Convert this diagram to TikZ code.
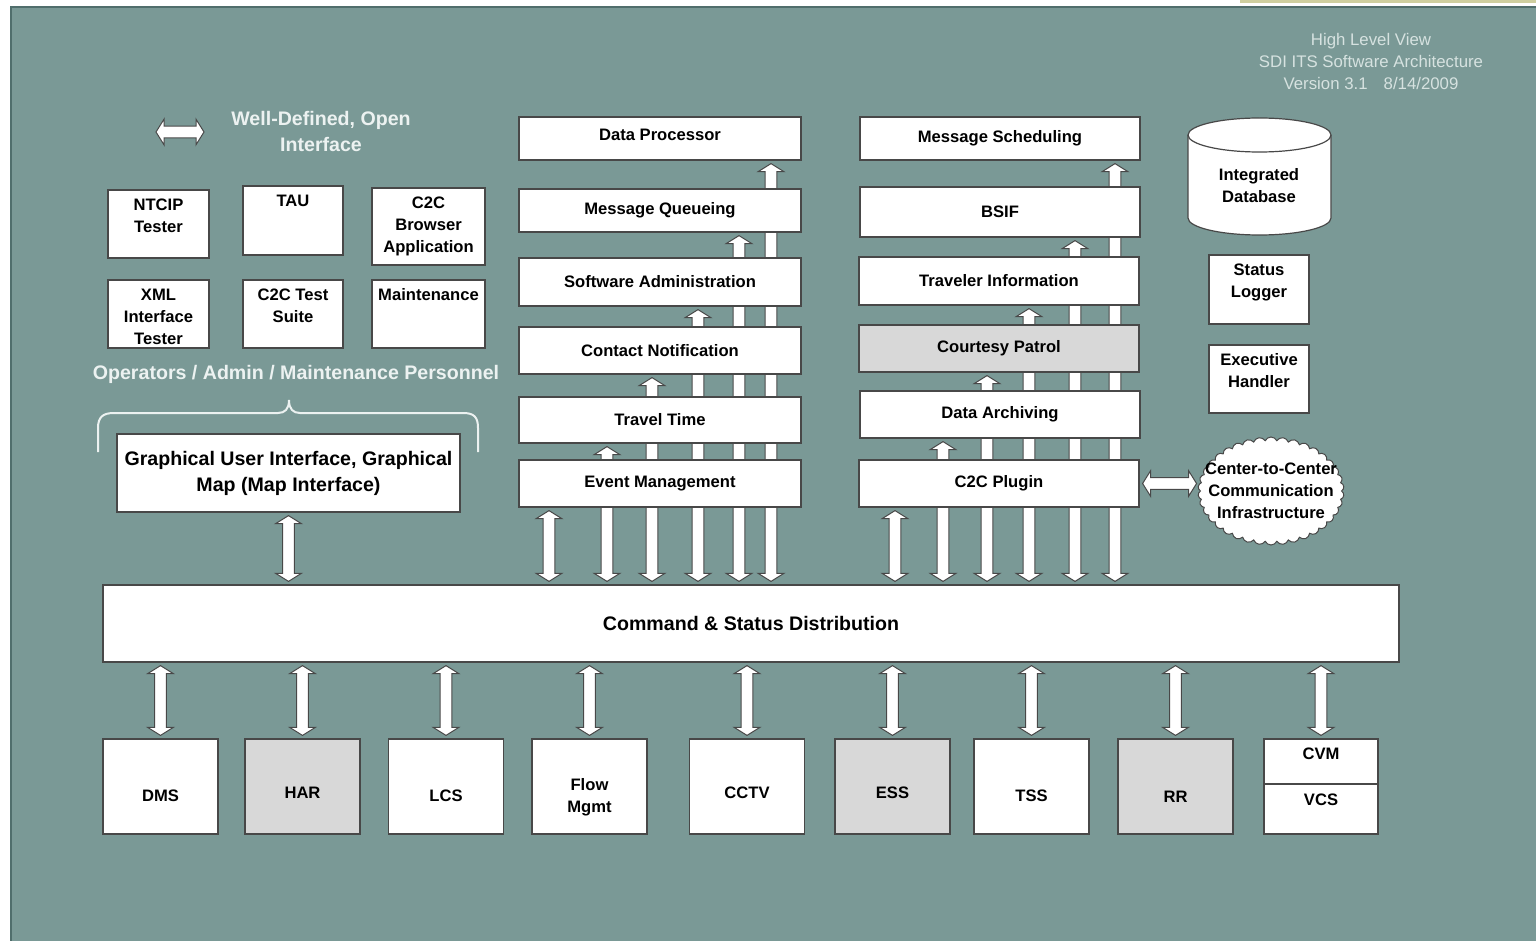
\documentclass[tikz,border=0pt]{standalone}
\usepackage{fontspec}
\setmainfont{Liberation Sans}
\usetikzlibrary{calc,shapes.symbols}
\definecolor{panel}{RGB}{122,153,150}
\definecolor{paneledge}{RGB}{80,110,108}
\definecolor{boxln}{RGB}{72,72,72}
\definecolor{boxgray}{RGB}{216,216,216}
\definecolor{paletxt}{RGB}{236,242,241}
\definecolor{ttltxt}{RGB}{214,226,224}
\definecolor{stripy}{RGB}{207,207,160}
\pgfdeclarelayer{back}
\pgfdeclarelayer{arr}
\pgfsetlayers{back,arr,main}
\newcommand\labfont{\fontsize{8.3}{11}\selectfont\bfseries}
\newcommand\bigfont{\fontsize{9.8}{13}\selectfont\bfseries}
\newcommand\ttlfont{\fontsize{8.4}{11}\selectfont}
\newcommand\arsw{2.9pt}
\newcommand\arhw{6.4pt}
\newcommand\arhl{4pt}
% vertical block arrow: #1 upper end, #2 lower end
\newcommand\blockV[2]{\draw[blockar] let \p1=($(#1)+(0pt,-1.5pt)$), \p2=($(#2)+(0pt,1.5pt)$) in
  (\x1,\y1) -- (\x1+\arhw,\y1-\arhl) -- (\x1+\arsw,\y1-\arhl) -- (\x2+\arsw,\y2+\arhl) -- (\x2+\arhw,\y2+\arhl)
  -- (\x2,\y2) -- (\x2-\arhw,\y2+\arhl) -- (\x2-\arsw,\y2+\arhl) -- (\x1-\arsw,\y1-\arhl) -- (\x1-\arhw,\y1-\arhl) -- cycle;}
% horizontal block arrow: #1 left end, #2 right end
\newcommand\blockH[2]{\draw[blockar] let \p1=($(#1)+(1.5pt,0pt)$), \p2=($(#2)+(-1.5pt,0pt)$) in
  (\x1,\y1) -- (\x1+\arhl,\y1+\arhw) -- (\x1+\arhl,\y1+\arsw) -- (\x2-\arhl,\y2+\arsw) -- (\x2-\arhl,\y2+\arhw)
  -- (\x2,\y2) -- (\x2-\arhl,\y2-\arhw) -- (\x2-\arhl,\y2-\arsw) -- (\x1+\arhl,\y1-\arsw) -- (\x1+\arhl,\y1-\arhw) -- cycle;}
\begin{document}
\begin{tikzpicture}[x=0.5pt,y=-0.5pt,
  abox/.style={draw=boxln, fill=white, line width=0.6pt, inner sep=0pt, font=\labfont, align=center, text=black},
  gbox/.style={abox, fill=boxgray},
  mbox/.style={abox, minimum width=141pt},
  rbox/.style={abox, minimum width=140pt},
  devbox/.style={abox, minimum width=57.5pt, minimum height=47.5pt},
  toplab/.style={anchor=north, font=\labfont, align=center, inner sep=0pt, yshift=-4.5pt, text=black},
  devlab/.style={font=\labfont, align=center, inner sep=0pt, yshift=#1, text=black},
  whitetxt/.style={font=\bigfont, text=paletxt, align=center, inner sep=0pt},
  ttl/.style={font=\ttlfont, text=ttltxt, align=center, inner sep=0pt},
  blockar/.style={draw=boxln, fill=white, line width=0.5pt, line join=miter},
  bracesty/.style={draw=paletxt, line width=1pt},
  ctcshape/.style={cloud, cloud puffs=38, cloud puff arc=130, draw=boxln, fill=white, line width=0.5pt,
     minimum width=73pt, minimum height=54pt, inner sep=0pt}
]
\useasboundingbox (0,0) rectangle (1536,941);
\begin{pgfonlayer}{back}
  \fill[white] (0,0) rectangle (1536,941);
  \fill[panel] (10,6) rectangle (1536,941);
  \draw[paneledge, line width=1pt] (11,941) -- (11,7) -- (1536,7);
  \fill[stripy] (1240,0) rectangle (1536,3);
\end{pgfonlayer}

% title
\node[ttl] (title) at (1371,61) {High Level View\\SDI ITS Software Architecture\\Version 3.1\hspace{8pt}8/14/2009};

% legend
\coordinate (lgA) at (153,132);
\coordinate (lgB) at (207,132);
\blockH{lgA}{lgB}
\node[whitetxt] (legend) at (321,131) {Well-Defined, Open\\Interface};

% operator tools
\node[abox, minimum width=50.5pt, minimum height=34pt, label={[toplab]north:{NTCIP\\Tester}}] (ntcip) at (158.5,224) {};
\node[abox, minimum width=50pt, minimum height=34.5pt, label={[toplab]north:{TAU}}] (tau) at (293,220.5) {};
\node[abox, minimum width=56.5pt, minimum height=38.5pt, label={[toplab]north:{C2C\\Browser\\Application}}] (c2cb) at (428.5,226.5) {};
\node[abox, minimum width=50.5pt, minimum height=34pt, label={[toplab]north:{XML\\Interface\\Tester}}] (xml) at (158.5,314) {};
\node[abox, minimum width=50pt, minimum height=34pt, label={[toplab]north:{C2C Test\\Suite}}] (c2ct) at (293,314) {};
\node[abox, minimum width=56.5pt, minimum height=34pt, label={[toplab]north:{Maintenance}}] (maint) at (428.5,314) {};

\node[whitetxt] (ops) at (296,374) {Operators / Admin / Maintenance Personnel};
\draw[bracesty] (98,452) -- (98,428) .. controls (98,417) and (103,413) .. (114,413) -- (278,413)
   .. controls (285,413) and (289,409) .. (289,400) .. controls (289,409) and (293,413) .. (300,413)
   -- (463,413) .. controls (474,413) and (478,417) .. (478,428) -- (478,452);

\node[abox, font=\bigfont, minimum width=171.5pt, minimum height=39pt] (gui) at (288.5,473) {Graphical User Interface, Graphical\\Map (Map Interface)};

% central distribution bar
\node[abox, font=\bigfont, minimum width=648pt, minimum height=38.5pt] (csd) at (751,623.5) {Command \& Status Distribution};

% middle column
\node[mbox, minimum height=21.5pt, label={[devlab=2pt]center:Data Processor}] (dp) at (660,138.5) {};
\node[mbox, minimum height=21.5pt] (mq) at (660,210.5) {Message Queueing};
\node[mbox, minimum height=24pt] (sa) at (660,282) {Software Administration};
\node[mbox, minimum height=23.5pt] (cn) at (660,350.5) {Contact Notification};
\node[mbox, minimum height=23pt] (tt) at (660,420) {Travel Time};
\node[mbox, minimum height=23.5pt] (em) at (660,483.5) {Event Management};

% right column
\node[rbox, minimum height=21.5pt] (ms) at (1000,138.5) {Message Scheduling};
\node[rbox, minimum height=25pt] (bsif) at (1000,212) {BSIF};
\node[rbox, minimum height=24pt] (ti) at (999,281) {Traveler Information};
\node[rbox, gbox, minimum height=23.5pt] (cp) at (999,348.5) {Courtesy Patrol};
\node[rbox, minimum height=23.5pt] (da) at (1000,414.5) {Data Archiving};
\node[rbox, minimum height=23.5pt] (c2c) at (999,483.5) {C2C Plugin};

% database cylinder
\draw[draw=boxln, fill=white, line width=0.6pt] (1188,135) -- (1188,218)
   arc[start angle=180, end angle=360, x radius=35.75pt, y radius=8.5pt] -- (1331,135)
   arc[start angle=0, end angle=180, x radius=35.75pt, y radius=8.5pt] -- cycle;
\draw[draw=boxln, line width=0.6pt] (1188,135) arc[start angle=180, end angle=360, x radius=35.75pt, y radius=8.5pt];
\node[font=\labfont, align=center, inner sep=0pt] (db) at (1259,186) {Integrated\\Database};

\node[abox, minimum width=50pt, minimum height=34.5pt, label={[toplab]north:{Status\\Logger}}] (sl) at (1259,289.5) {};
\node[abox, minimum width=50pt, minimum height=34pt, label={[toplab]north:{Executive\\Handler}}] (eh) at (1259,379) {};

\node[ctcshape, label={[devlab=0pt]center:{Center-to-Center\\Communication\\Infrastructure}}] (ctc) at (1271,491) {};

% field devices
\node[devbox, label={[devlab=-4.75pt]center:DMS}] (dms) at (160.5,786.5) {};
\node[devbox, gbox, label={[devlab=-3.25pt]center:HAR}] (har) at (302.5,786.5) {};
\node[devbox, label={[devlab=-4.75pt]center:LCS}] (lcs) at (446,786.5) {};
\node[devbox, label={[devlab=-5.25pt]center:{Flow\\Mgmt}}] (flow) at (589.5,786.5) {};
\node[devbox, label={[devlab=-3.25pt]center:CCTV}] (cctv) at (747,786.5) {};
\node[devbox, gbox, label={[devlab=-3.25pt]center:ESS}] (ess) at (892.5,786.5) {};
\node[devbox, label={[devlab=-4.75pt]center:TSS}] (tss) at (1031.5,786.5) {};
\node[devbox, gbox, label={[devlab=-5.25pt]center:RR}] (rr) at (1175.5,786.5) {};
\node[abox, minimum width=57pt, minimum height=22.5pt, label={[devlab=3.75pt]center:CVM}] (cvm) at (1321,761.5) {};
\node[abox, minimum width=57pt, minimum height=25pt, label={[devlab=4.5pt]center:VCS}] (vcs) at (1321,809) {};

% connectors
\begin{pgfonlayer}{arr}
  \blockV{gui.south}{csd.north -| gui.south}
  \coordinate (m1) at (549,0);
  \coordinate (m2) at (607,0);
  \coordinate (m3) at (652,0);
  \coordinate (m4) at (698,0);
  \coordinate (m5) at (739,0);
  \coordinate (m6) at (771,0);
  \blockV{em.south -| m1}{csd.north -| m1}
  \blockV{tt.south -| m2}{csd.north -| m2}
  \blockV{cn.south -| m3}{csd.north -| m3}
  \blockV{sa.south -| m4}{csd.north -| m4}
  \blockV{mq.south -| m5}{csd.north -| m5}
  \blockV{dp.south -| m6}{csd.north -| m6}
  \coordinate (r1) at (895,0);
  \coordinate (r2) at (943,0);
  \coordinate (r3) at (987,0);
  \coordinate (r4) at (1029,0);
  \coordinate (r5) at (1075,0);
  \coordinate (r6) at (1115,0);
  \blockV{c2c.south -| r1}{csd.north -| r1}
  \blockV{da.south -| r2}{csd.north -| r2}
  \blockV{cp.south -| r3}{csd.north -| r3}
  \blockV{ti.south -| r4}{csd.north -| r4}
  \blockV{bsif.south -| r5}{csd.north -| r5}
  \blockV{ms.south -| r6}{csd.north -| r6}
  \blockH{c2c.east}{ctc.west |- c2c.east}
  \blockV{csd.south -| dms.north}{dms.north}
  \blockV{csd.south -| har.north}{har.north}
  \blockV{csd.south -| lcs.north}{lcs.north}
  \blockV{csd.south -| flow.north}{flow.north}
  \blockV{csd.south -| cctv.north}{cctv.north}
  \blockV{csd.south -| ess.north}{ess.north}
  \blockV{csd.south -| tss.north}{tss.north}
  \blockV{csd.south -| rr.north}{rr.north}
  \blockV{csd.south -| cvm.north}{cvm.north}
\end{pgfonlayer}
\end{tikzpicture}
\end{document}
